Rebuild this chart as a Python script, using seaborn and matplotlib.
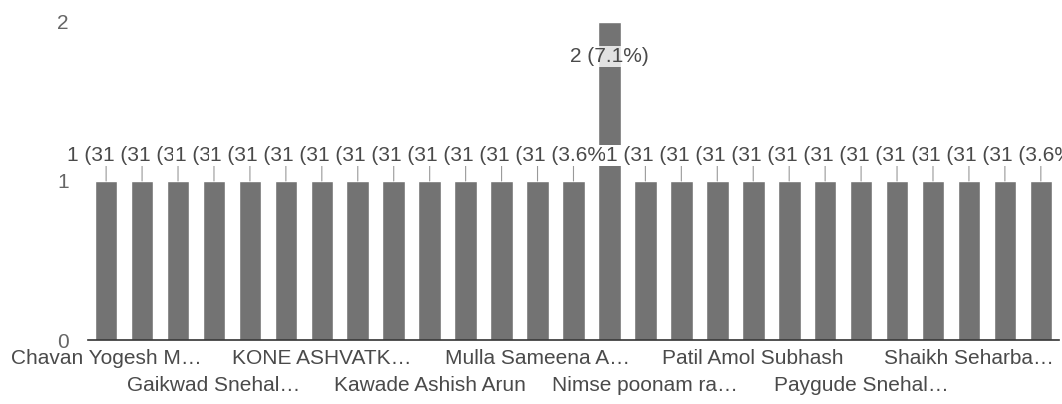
import matplotlib
matplotlib.use("Agg")
import matplotlib.pyplot as plt
import seaborn as sns
import pandas as pd

# =========================
# Data
# =========================
# 27 respondents, sorted by name; only every 3rd name is printed on the axis
shown_names = [
    "Chavan Yogesh M…",
    "Gaikwad Snehal…",
    "KONE ASHVATK…",
    "Kawade Ashish Arun",
    "Mulla Sameena A…",
    "Nimse poonam ra…",
    "Patil Amol Subhash",
    "Paygude Snehal…",
    "Shaikh Seharba…",
]
counts = [1, 1, 1, 1, 1, 1, 1, 1, 1, 1, 1, 1, 1, 1, 2,
          1, 1, 1, 1, 1, 1, 1, 1, 1, 1, 1, 1]
label_every = 3

names = []
for i in range(len(counts)):
    if i % label_every == 0:
        names.append(shown_names[i // label_every])
    else:
        names.append(f"respondent {i + 1}")

df = pd.DataFrame({"name": names, "count": counts})
total = df["count"].sum()

# =========================
# Plot
# =========================
sns.set_style("white")
plt.rcParams["font.family"] = ["Liberation Sans", "DejaVu Sans"]

bar_color = "#737373"
text_color = "#4a4a4a"
fs = 15

fig = plt.figure(figsize=(10.62, 4.04), dpi=100)
ax = fig.add_axes([0.083, 0.158, 0.914, 0.788])

sns.barplot(data=df, x="name", y="count", order=names, color=bar_color,
            width=0.63, saturation=1, ax=ax)

ax.set_ylim(0, 2)
ax.set_xlim(-0.5, len(names) - 0.5)
ax.set_yticks([0, 1, 2])
ax.set_yticklabels(["0", "1", "2"], fontsize=fs, color="#666666")
ax.tick_params(axis="y", length=0, pad=14)

ticks = list(range(0, len(names), label_every))
ax.set_xticks(ticks)
tick_labels = []
for k, t in enumerate(ticks):
    lab = names[t]
    tick_labels.append(lab if k % 2 == 0 else "\n" + lab)
ax.set_xticklabels(tick_labels, fontsize=fs, color=text_color, linespacing=1.55)
ax.tick_params(axis="x", length=0, pad=6)

ax.set_xlabel("")
ax.set_ylabel("")
for s in ["top", "right", "left"]:
    ax.spines[s].set_visible(False)
ax.spines["bottom"].set_color("#333333")
ax.spines["bottom"].set_linewidth(1.2)

# value labels with leader lines
for i, p in enumerate(ax.patches):
    h = p.get_height()
    xc = p.get_x() + p.get_width() / 2
    pct = h / total * 100
    txt = f"{int(h)} ({pct:.1f}%)"
    if h >= 2:
        ax.annotate(txt, xy=(xc, h), xytext=(xc, h - 0.22),
                    ha="center", va="center", fontsize=fs, color=text_color,
                    bbox=dict(boxstyle="square,pad=0.05", fc="white", ec="none", alpha=0.8),
                    annotation_clip=False, zorder=5)
    else:
        ax.annotate(txt, xy=(xc, h), xytext=(xc, h + 0.16),
                    ha="center", va="center", fontsize=fs, color=text_color,
                    bbox=dict(boxstyle="square,pad=0.05", fc="white", ec="none"),
                    arrowprops=dict(arrowstyle="-", color="#999999", lw=0.8,
                                    shrinkA=0, shrinkB=0),
                    annotation_clip=False, zorder=5 + i)

fig.savefig("out.png", dpi=100)
